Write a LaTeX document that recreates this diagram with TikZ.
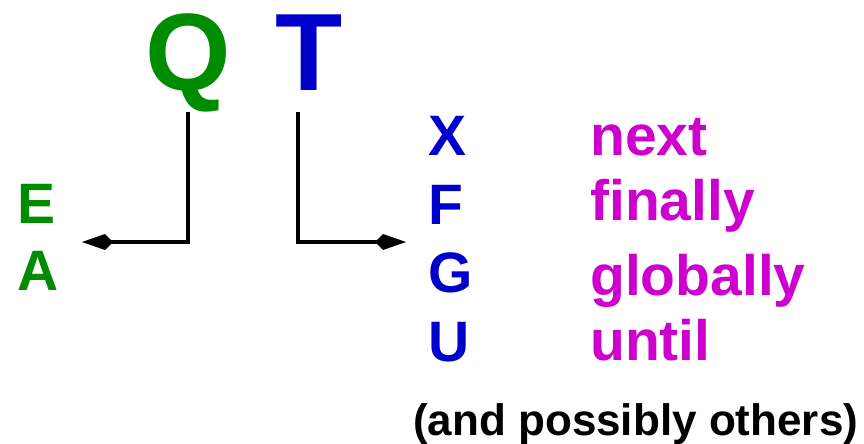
\documentclass[tikz,border=0pt]{standalone}
\usepackage{fontspec}
\setmainfont{Liberation Sans}
\usetikzlibrary{arrows.meta}

\definecolor{pathgreen}{RGB}{0,140,0}
\definecolor{tempblue}{RGB}{0,0,205}
\definecolor{opmagenta}{RGB}{205,0,205}

\begin{document}
\begin{tikzpicture}[x=1pt,y=-1pt,
  word/.style={anchor=base west,inner sep=0pt,font=\bfseries\fontsize{57}{57}\selectfont},
  big/.style={anchor=base west,inner sep=0pt,font=\bfseries\fontsize{110}{110}\selectfont},
  link/.style={line width=3.5pt,-{Kite[length=31pt,width=16pt,inset=8pt]}}]
\useasboundingbox (0,0) rectangle (864,444);

% path quantifiers and temporal operators
\node [big,pathgreen] (Q) at (145,90) {Q};
\node [big,tempblue] (T) at (275,90) {T};

\node [word,pathgreen] (E) at (17,223) {E};
\node [word,pathgreen] (A) at (17,290) {A};

\node [word,tempblue] (X) at (428,155) {X};
\node [word,tempblue] (F) at (428,224) {F};
\node [word,tempblue] (G) at (428,292) {G};
\node [word,tempblue] (U) at (428,361) {U};

\node [word,opmagenta] (next) at (590,155) {next};
\node [word,opmagenta] (finally) at (590,220) {finally};
\node [word,opmagenta] (globally) at (590,295) {globally};
\node [word,opmagenta] (until) at (590,360) {until};

\node [anchor=base west,inner sep=0pt,font=\bfseries\fontsize{44}{44}\selectfont] (others) at (413,435) {(and possibly others)};

% elbow connectors
\coordinate (qtop) at ([yshift=-22pt]Q.base);
\coordinate (qend) at (82,242);
\coordinate (ttop) at (298,112);
\coordinate (tend) at (406,242);
\draw [link] (qtop) |- (qend);
\draw [link] (ttop) |- (tend);
\end{tikzpicture}
\end{document}
